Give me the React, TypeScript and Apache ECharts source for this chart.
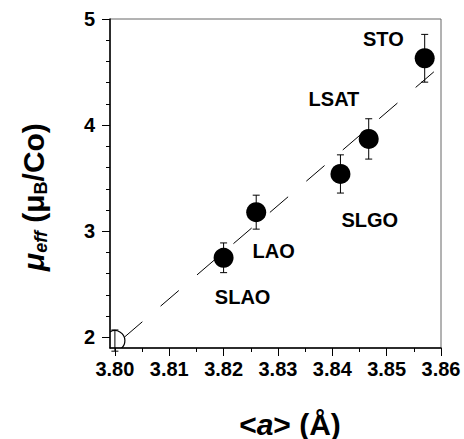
import React, { useEffect, useRef } from "react";
import * as echarts from "echarts";

// ---- data ----
const substrates = ["SLAO", "LAO", "SLGO", "LSAT", "STO"];
const latticeA = [3.82, 3.826, 3.8415, 3.8467, 3.857];
const muEff = [2.75, 3.18, 3.54, 3.87, 4.63];
const muErr = [0.14, 0.16, 0.18, 0.19, 0.225];

const bulkA = [3.8];
const bulkMu = [1.97];
const bulkErr = [0.1];

const fitLine = [
  [3.8017, 2.0],
  [3.86, 4.56],
];

// label anchor positions (data coordinates)
const labelA = [3.8235, 3.8292, 3.8469, 3.8403, 3.8494];
const labelMu = [2.383, 2.812, 3.104, 4.242, 4.81];

const xMajorTicks = [3.8, 3.81, 3.82, 3.83, 3.84, 3.85, 3.86];
const xMinorTicks = [3.805, 3.815, 3.825, 3.835, 3.845, 3.855];
const yMajorTicks = [2, 3, 4, 5];
const yMinorTicks = [2.2, 2.4, 2.6, 2.8, 3.2, 3.4, 3.6, 3.8, 4.2, 4.4, 4.6, 4.8];

const FONT = "'Liberation Sans', Arial, Helvetica, sans-serif";

export default function App() {
  const ref = useRef<HTMLDivElement>(null);
  useEffect(() => {
    if (!ref.current) return;
    const chart = echarts.init(ref.current, undefined, { renderer: "svg" });

    const errData = latticeA.map((a, i) => [a, muEff[i], muErr[i]]).concat(
      bulkA.map((a, i) => [a, bulkMu[i], bulkErr[i]])
    );

    const xBase = {
      type: "value" as const,
      min: 3.7991,
      max: 3.86,
      splitLine: { show: false },
    };
    const yBase = {
      type: "value" as const,
      min: 1.9,
      max: 5,
      splitLine: { show: false },
    };

    chart.setOption({
      animation: false,
      grid: {
        left: 110,
        right: 23,
        top: 19,
        bottom: 91,
        show: true,
        borderColor: "#666",
        borderWidth: 1,
      },
      xAxis: [
        {
          ...xBase,
          position: "bottom",
          axisLine: { show: true, lineStyle: { color: "#000", width: 1.5 } },
          axisTick: {
            show: true,
            customValues: xMajorTicks,
            length: 8,
            lineStyle: { color: "#000", width: 1 },
          },
          axisLabel: {
            show: true,
            customValues: xMajorTicks,
            formatter: (v: number) => v.toFixed(2),
            margin: 11,
            fontSize: 20,
            fontWeight: "bold",
            color: "#000",
            fontFamily: FONT,
          },
        },
        {
          ...xBase,
          position: "bottom",
          axisLine: { show: false },
          axisTick: {
            show: true,
            customValues: xMinorTicks,
            length: 4,
            lineStyle: { color: "#000", width: 1 },
          },
          axisLabel: { show: false },
        },
      ],
      yAxis: [
        {
          ...yBase,
          position: "left",
          axisLine: { show: true, lineStyle: { color: "#000", width: 1.5 } },
          axisTick: {
            show: true,
            customValues: yMajorTicks,
            length: 8,
            lineStyle: { color: "#000", width: 1 },
          },
          axisLabel: {
            show: true,
            customValues: yMajorTicks,
            margin: 15,
            fontSize: 20,
            fontWeight: "bold",
            color: "#000",
            fontFamily: FONT,
          },
        },
        {
          ...yBase,
          position: "left",
          axisLine: { show: false },
          axisTick: {
            show: true,
            customValues: yMinorTicks,
            length: 4,
            lineStyle: { color: "#000", width: 1 },
          },
          axisLabel: { show: false },
        },
      ],
      series: [
        {
          type: "line",
          data: fitLine,
          symbol: "none",
          lineStyle: { color: "#000", width: 1, type: [24, 24] },
          silent: true,
          z: 1,
        },
        {
          type: "custom",
          data: errData,
          z: 2,
          silent: true,
          renderItem: (params: any, api: any) => {
            const x = api.value(0);
            const y = api.value(1);
            const e = api.value(2);
            const t = api.coord([x, y + e]);
            const b = api.coord([x, y - e]);
            const hw = 3.5;
            const st = { stroke: "#000", lineWidth: 1 };
            return {
              type: "group",
              children: [
                { type: "line", shape: { x1: t[0], y1: t[1], x2: b[0], y2: b[1] }, style: st },
                { type: "line", shape: { x1: t[0] - hw, y1: t[1], x2: t[0] + hw, y2: t[1] }, style: st },
                { type: "line", shape: { x1: b[0] - hw, y1: b[1], x2: b[0] + hw, y2: b[1] }, style: st },
              ],
            };
          },
        },
        {
          type: "custom",
          data: bulkA.map((a, i) => [a, bulkMu[i]]),
          clip: true,
          z: 3,
          silent: true,
          renderItem: (params: any, api: any) => {
            const c = api.coord([api.value(0), api.value(1)]);
            return {
              type: "circle",
              shape: { cx: c[0], cy: c[1], r: 10 },
              style: { fill: "none", stroke: "#000", lineWidth: 1.2 },
            };
          },
        },
        {
          type: "scatter",
          data: latticeA.map((a, i) => [a, muEff[i]]),
          symbol: "circle",
          symbolSize: 20,
          itemStyle: { color: "#000", opacity: 1 },
          z: 4,
          silent: true,
        },
        {
          type: "scatter",
          data: substrates.map((s, i) => ({ name: s, value: [labelA[i], labelMu[i]] })),
          symbolSize: 0,
          itemStyle: { color: "transparent", opacity: 1 },
          silent: true,
          z: 5,
          label: {
            show: true,
            position: "inside",
            formatter: (p: any) => p.name,
            fontSize: 20,
            fontWeight: "bold",
            color: "#000",
            opacity: 1,
            fontFamily: FONT,
          },
        },
      ],
      graphic: [
        {
          type: "text",
          x: 290,
          y: 424,
          style: {
            text: "{n|<}{i|a}{n|> (Å)}",
            align: "center",
            verticalAlign: "middle",
            fill: "#000",
            rich: {
              n: { fontSize: 30, fontWeight: "bold", fontFamily: FONT, fill: "#000" },
              i: { fontSize: 30, fontWeight: "bold", fontStyle: "italic", fontFamily: FONT, fill: "#000" },
            },
          },
        },
        {
          type: "text",
          x: 33,
          y: 197,
          rotation: Math.PI / 2,
          style: {
            text: "{mu|μ}{sub|eff}{n| (μ}{sb|B}{n|/Co)}",
            align: "center",
            verticalAlign: "middle",
            fill: "#000",
            rich: {
              mu: { fontSize: 30, fontWeight: "bold", fontStyle: "italic", fontFamily: FONT, fill: "#000" },
              n: { fontSize: 30, fontWeight: "bold", fontFamily: FONT, fill: "#000" },
              sub: {
                fontSize: 18,
                fontWeight: "bold",
                fontStyle: "italic",
                fontFamily: FONT,
                fill: "#000",
                padding: [16, 0, 0, 0],
              },
              sb: {
                fontSize: 18,
                fontWeight: "bold",
                fontFamily: FONT,
                fill: "#000",
                padding: [16, 0, 0, 0],
              },
            },
          },
        },
      ],
    });
    return () => chart.dispose();
  }, []);
  return (
    <div
      ref={ref}
      style={{ position: "absolute", left: 0, top: 0, width: 464, height: 439 }}
    />
  );
}
